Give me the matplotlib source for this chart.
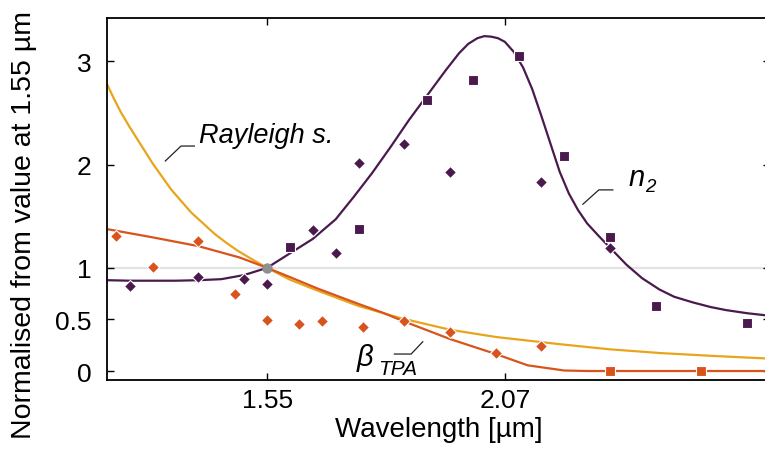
import matplotlib
matplotlib.use("Agg")
import matplotlib.pyplot as plt

plt.rcParams["font.family"] = ["Liberation Sans", "DejaVu Sans"]

# Colours of the three quantities
PURPLE = "#4a1a4e"
ORANGE = "#d9541c"
YELLOW = "#e8a51c"

# Measured n2 (two data sets: diamonds and squares)
n2_diamond_x = [1.25, 1.40, 1.50, 1.55, 1.65, 1.70, 1.75, 1.85, 1.95, 2.15, 2.30]
n2_diamond_y = [0.82, 0.91, 0.89, 0.84, 1.37, 1.14, 2.02, 2.20, 1.93, 1.83, 1.19]
n2_square_x = [1.60, 1.75, 1.90, 2.00, 2.10, 2.20, 2.30, 2.40, 2.60]
n2_square_y = [1.20, 1.38, 2.63, 2.82, 3.05, 2.08, 1.30, 0.63, 0.47]

# Measured beta_TPA
beta_diamond_x = [1.22, 1.30, 1.40, 1.48, 1.55, 1.62, 1.67, 1.76, 1.85, 1.95, 2.05, 2.15]
beta_diamond_y = [1.31, 1.01, 1.26, 0.75, 0.49, 0.46, 0.48, 0.43, 0.48, 0.38, 0.17, 0.24]
beta_square_x = [2.30, 2.50]
beta_square_y = [0.0, 0.0]

# Model curves
n2_curve_x = [1.20, 1.25, 1.30, 1.35, 1.40, 1.45, 1.50, 1.55, 1.60, 1.65, 1.70,
              1.74, 1.78, 1.82, 1.86, 1.90, 1.94, 1.97, 1.99, 2.01, 2.025,
              2.04, 2.055, 2.07, 2.09, 2.11, 2.13, 2.15, 2.17, 2.19, 2.21,
              2.23, 2.25, 2.275, 2.30, 2.336, 2.37, 2.408, 2.44, 2.481, 2.52,
              2.554, 2.60, 2.65]
n2_curve_y = [0.88, 0.875, 0.875, 0.875, 0.88, 0.89, 0.93, 1.00, 1.14, 1.28, 1.47,
              1.69, 1.92, 2.17, 2.43, 2.67, 2.91, 3.08, 3.17, 3.225, 3.245,
              3.24, 3.225, 3.19, 3.09, 2.94, 2.73, 2.47, 2.20, 1.93, 1.72,
              1.56, 1.43, 1.31, 1.195, 1.03, 0.90, 0.79, 0.72, 0.665, 0.62,
              0.59, 0.56, 0.535]

rayleigh_x = [1.20, 1.215, 1.23, 1.25, 1.27, 1.30, 1.34, 1.384, 1.435, 1.46, 1.486,
              1.52, 1.55, 1.60, 1.66, 1.75, 1.84, 1.95, 2.05, 2.19, 2.30, 2.41,
              2.53, 2.65]
rayleigh_y = [2.78, 2.64, 2.51, 2.36, 2.22, 2.01, 1.76, 1.536, 1.33, 1.245, 1.165,
              1.075, 1.00, 0.885, 0.78, 0.63, 0.515, 0.40, 0.33, 0.26, 0.21, 0.174,
              0.145, 0.12]

beta_curve_x = [1.20, 1.30, 1.40, 1.49, 1.55, 1.60, 1.66, 1.75, 1.80, 1.85, 1.95,
                2.05, 2.12, 2.20, 2.25, 2.65]
beta_curve_y = [1.375, 1.295, 1.21, 1.10, 1.00, 0.91, 0.80, 0.65, 0.57, 0.48, 0.31,
                0.165, 0.055, 0.005, 0.0, 0.0]

ref_x = [1.55]
ref_y = [1.0]

x_ticks = [1.55, 2.07]
y_ticks = [0, 0.5, 1, 2, 3]
y_tick_labels = ["0", "0.5", "1", "2", "3"]

fig = plt.figure(figsize=(7.65, 4.52), dpi=100)
ax = fig.add_axes([0.1399, 0.1571, 0.8667, 0.7998])

ax.axhline(1.0, color="#e3e3e3", lw=1.6, zorder=1)

ax.plot(rayleigh_x, rayleigh_y, color=YELLOW, lw=1.6, zorder=2)
ax.plot(beta_curve_x, beta_curve_y, color=ORANGE, lw=1.6, zorder=2)
ax.plot(n2_curve_x, n2_curve_y, color=PURPLE, lw=1.6, zorder=2)

mk = dict(ls="none", mec="white", mew=0.8, zorder=4)
ax.plot(n2_diamond_x, n2_diamond_y, marker="D", ms=6.2, mfc=PURPLE, **mk)
ax.plot(n2_square_x, n2_square_y, marker="s", ms=7.2, mfc=PURPLE, **mk)
ax.plot(beta_diamond_x, beta_diamond_y, marker="D", ms=6.2, mfc=ORANGE, **mk)
ax.plot(beta_square_x, beta_square_y, marker="s", ms=7.2, mfc=ORANGE, **mk)
ax.plot(ref_x, ref_y, marker="o", ms=6.5, mfc="#8f8f8f", mec="#8f8f8f",
        ls="none", zorder=5)

ax.set_xlim(1.2, 2.65)
ax.set_ylim(-0.087, 3.416)
ax.set_xticks(x_ticks)
ax.set_xticklabels([f"{v:.2f}" for v in x_ticks])
ax.set_yticks(y_ticks)
ax.set_yticklabels(y_tick_labels)
ax.tick_params(direction="in", top=True, right=True, length=5, width=1.0,
               labelsize=19, colors="black")
ax.tick_params(axis="y", pad=11)
ax.tick_params(axis="x", pad=6)
for sp in ax.spines.values():
    sp.set_linewidth(1.3)

ax.set_xlabel("Wavelength [µm]", fontsize=20, labelpad=3)
fig.text(24 / 765, 1 - 225 / 452, "Normalised from value at 1.55 µm",
         rotation=90, ha="center", va="center", fontsize=20.5)

# Curve labels with leader lines
lead = dict(color="#222222", lw=0.9, zorder=3)
ax.plot([1.3275, 1.3618, 1.391], [2.035, 2.18, 2.18], **lead)
ax.text(1.402, 2.216, "Rayleigh s.", fontsize=19.5, style="italic",
        ha="left", va="baseline")

ax.plot([2.2406, 2.2756, 2.3062], [1.616, 1.755, 1.755], **lead)
ax.text(2.341, 1.80, "n", fontsize=21, style="italic", ha="left", va="baseline")
ax.text(2.376, 1.74, "2", fontsize=13.5, style="italic", ha="left", va="baseline")

ax.plot([1.8905, 1.8651, 1.8286], [0.2836, 0.1645, 0.1645], **lead)
ax.text(1.7454, 0.06, "β", fontsize=21, style="italic", ha="left", va="baseline")
ax.text(1.792, -0.03, "TPA", fontsize=15, style="italic", ha="left", va="baseline")

fig.savefig("out.png", dpi=100)
